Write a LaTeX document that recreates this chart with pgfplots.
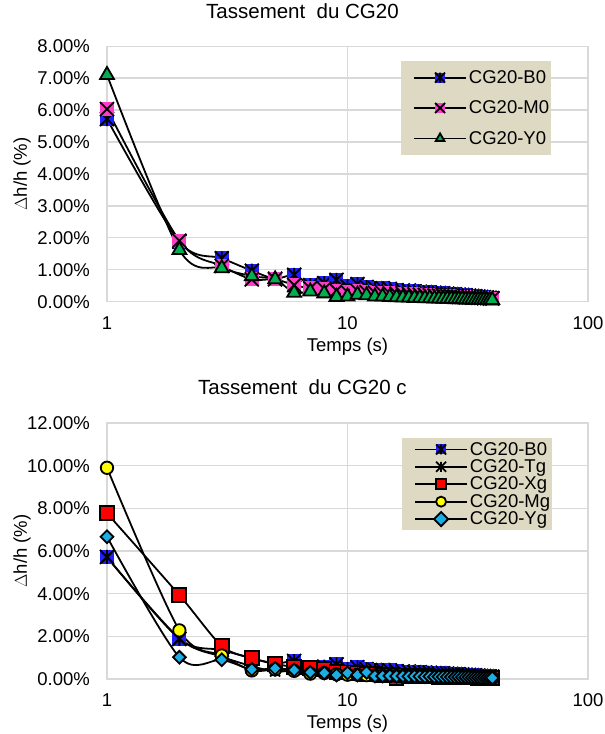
\documentclass[border=0pt]{standalone}
\usepackage{fontspec}
\setmainfont{Liberation Sans}
\usepackage{pgfplots}
\usepackage{pgfplotstable}
\pgfplotsset{compat=1.18}

\definecolor{gridgray}{HTML}{D9D9D9}
\definecolor{legtan}{HTML}{DDD9C3}
\definecolor{cgblue}{HTML}{1E1EFF}
\definecolor{cgmag}{HTML}{FF3DC8}
\definecolor{cggreen}{HTML}{00B050}
\definecolor{cgred}{HTML}{FF0000}
\definecolor{cgyellow}{HTML}{FFFF00}
\definecolor{cgcyan}{HTML}{1CADE4}

% square filled + X + vertical bar (Excel "star" on a filled square)
\pgfdeclareplotmark{sqstar}{%
  \pgfpathrectangle{\pgfqpoint{-\pgfplotmarksize}{-\pgfplotmarksize}}{\pgfqpoint{2\pgfplotmarksize}{2\pgfplotmarksize}}%
  \pgfusepathqfill
  \pgfpathmoveto{\pgfqpoint{-\pgfplotmarksize}{-\pgfplotmarksize}}\pgfpathlineto{\pgfqpoint{\pgfplotmarksize}{\pgfplotmarksize}}%
  \pgfpathmoveto{\pgfqpoint{-\pgfplotmarksize}{\pgfplotmarksize}}\pgfpathlineto{\pgfqpoint{\pgfplotmarksize}{-\pgfplotmarksize}}%
  \pgfpathmoveto{\pgfqpoint{0pt}{-\pgfplotmarksize}}\pgfpathlineto{\pgfqpoint{0pt}{\pgfplotmarksize}}%
  \pgfusepathqstroke}
% square filled + X
\pgfdeclareplotmark{sqx}{%
  \pgfpathrectangle{\pgfqpoint{-\pgfplotmarksize}{-\pgfplotmarksize}}{\pgfqpoint{2\pgfplotmarksize}{2\pgfplotmarksize}}%
  \pgfusepathqfill
  \pgfpathmoveto{\pgfqpoint{-\pgfplotmarksize}{-\pgfplotmarksize}}\pgfpathlineto{\pgfqpoint{\pgfplotmarksize}{\pgfplotmarksize}}%
  \pgfpathmoveto{\pgfqpoint{-\pgfplotmarksize}{\pgfplotmarksize}}\pgfpathlineto{\pgfqpoint{\pgfplotmarksize}{-\pgfplotmarksize}}%
  \pgfusepathqstroke}
% X + vertical bar, no fill
\pgfdeclareplotmark{xstar}{%
  \pgfpathmoveto{\pgfqpoint{-\pgfplotmarksize}{-\pgfplotmarksize}}\pgfpathlineto{\pgfqpoint{\pgfplotmarksize}{\pgfplotmarksize}}%
  \pgfpathmoveto{\pgfqpoint{-\pgfplotmarksize}{\pgfplotmarksize}}\pgfpathlineto{\pgfqpoint{\pgfplotmarksize}{-\pgfplotmarksize}}%
  \pgfpathmoveto{\pgfqpoint{0pt}{-\pgfplotmarksize}}\pgfpathlineto{\pgfqpoint{0pt}{\pgfplotmarksize}}%
  \pgfusepathqstroke}

% settlement (%) vs time (s)
\pgfplotstableread{
t  B0   M0   Y0
1  5.72 6.03 7.10
2  1.88 1.91 1.62
3  1.36 1.12 1.05
4  0.97 0.70 0.80
5  0.72 0.70 0.70
6  0.84 0.52 0.28
7  0.52 0.42 0.32
8  0.58 0.40 0.26
9  0.68 0.35 0.15
10 0.48 0.30 0.16
11 0.55 0.34 0.22
12 0.46 0.30 0.20
13 0.42 0.28 0.16
14 0.42 0.27 0.16
15 0.40 0.26 0.15
16 0.36 0.25 0.14
17 0.35 0.24 0.13
18 0.35 0.24 0.13
19 0.32 0.23 0.12
20 0.31 0.22 0.12
21 0.30 0.21 0.11
22 0.29 0.20 0.11
23 0.28 0.19 0.10
24 0.27 0.19 0.10
25 0.26 0.18 0.09
26 0.25 0.17 0.09
27 0.24 0.17 0.09
28 0.23 0.16 0.08
29 0.22 0.15 0.08
30 0.21 0.15 0.08
31 0.20 0.14 0.07
32 0.19 0.14 0.07
33 0.18 0.13 0.07
34 0.17 0.13 0.06
35 0.16 0.12 0.06
36 0.15 0.12 0.06
37 0.14 0.11 0.06
38 0.13 0.11 0.05
39 0.12 0.10 0.05
40 0.11 0.10 0.05
}\topdata

\pgfplotstableread{
t  B0   Tg   Xg   Mg   Yg
1  5.72 5.70 7.77 9.90 6.67
2  1.88 1.90 3.93 2.28 1.02
3  1.36 1.05 1.55 1.10 0.90
4  0.97 0.60 0.98 0.40 0.45
5  0.72 0.35 0.72 0.45 0.50
6  0.84 0.40 0.55 0.38 0.42
7  0.52 0.35 0.50 0.25 0.31
8  0.58 0.30 0.45 0.28 0.28
9  0.68 0.25 0.32 0.22 0.19
10 0.48 0.22 0.30 0.20 0.28
11 0.55 0.20 0.28 0.20 0.19
12 0.46 0.19 0.25 0.18 0.31
13 0.42 0.18 0.22 0.16 0.14
14 0.42 0.17 0.20 0.15 0.14
15 0.40 0.16 0.18 0.14 0.15
16 0.36 0.15 0.03 0.14 0.13
17 0.35 0.15 0.16 0.13 0.14
18 0.35 0.14 0.15 0.12 0.12
19 0.32 0.13 0.14 0.12 0.13
20 0.31 0.13 0.14 0.11 0.12
21 0.30 0.12 0.13 0.11 0.11
22 0.29 0.12 0.12 0.10 0.12
23 0.28 0.11 0.12 0.10 0.10
24 0.27 0.10 0.11 0.09 0.11
25 0.26 0.10 0.11 0.09 0.10
26 0.25 0.09 0.10 0.09 0.10
27 0.24 0.09 0.10 0.08 0.09
28 0.23 0.08 0.09 0.08 0.09
29 0.22 0.08 0.09 0.08 0.09
30 0.21 0.07 0.08 0.07 0.08
31 0.20 0.07 0.08 0.07 0.08
32 0.19 0.07 0.08 0.07 0.08
33 0.18 0.06 0.07 0.06 0.07
34 0.17 0.06 0.07 0.06 0.07
35 0.16 0.06 0.06 0.06 0.07
36 0.15 0.05 0.06 0.06 0.06
37 0.14 0.05 0.06 0.05 0.06
38 0.13 0.05 0.05 0.05 0.06
39 0.12 0.04 0.05 0.05 0.05
40 0.11 0.04 0.05 0.05 0.05
}\botdata

% legend sample: black line with one small marker in the middle
\newcommand{\cgimg}[1]{\path (0pt,0pt);
  \draw[mark repeat=2,mark phase=2,#1,line width=1.8pt,mark size=5pt]
  plot coordinates {(12pt,0pt) (38pt,0pt) (64pt,0pt)};}

\pgfplotsset{
  cgaxis/.style={
    scale only axis, width=481pt,
    xmin=1, xmax=100,
    xtick={1,10,100}, xticklabels={1,10,100},
    ymin=0,
    clip=false,
    grid=major,
    major grid style={gridgray, line width=1.3pt},
    axis line style={gridgray, line width=1.3pt},
    major tick length=0pt, minor tick length=0pt,
    tick label style={font=\fontsize{18.5}{22}\selectfont},
    /pgf/number format/assume math mode=true,
    yticklabel={\pgfmathprintnumber[fixed,fixed zerofill,precision=2]{\tick}\%},
    yticklabel style={inner sep=0pt, xshift=-17pt},
    xticklabel style={inner sep=0pt, yshift=-14.5pt},
    xlabel={Temps (s)},
    xlabel style={at={(axis description cs:0.5,0)}, anchor=center, yshift=-45pt, font=\fontsize{18.5}{22}\selectfont},
    ylabel={$\Delta$h/h (\%)},
    ylabel style={at={(axis description cs:-0.1767,0.5)}, anchor=center, font=\fontsize{18.5}{22}\selectfont},
    title style={at={(0.4064,1)}, anchor=center, font=\fontsize{20.5}{24}\selectfont},
    legend cell align=left,
    legend style={draw=none, fill=legtan, anchor=north west,
      font=\fontsize{18.5}{22}\selectfont, inner xsep=0pt},
  },
  cgline/.style={black, line width=1.8pt, smooth, mark options={solid, line width=1pt}},
}

\begin{document}
\begin{tikzpicture}
\useasboundingbox (0,0) rectangle (605pt,734pt);

\begin{semilogxaxis}[cgaxis,
  at={(107pt,432.3pt)}, anchor=south west, height=255.5pt,
  ymax=8, ytick={0,1,...,8},
  title={Tassement~~du CG20}, title style={yshift=29pt},
  legend style={at={(0.6112,0.9413)}, row sep=12pt, inner ysep=7pt},
  legend image code/.code={\cgimg{#1}},
]
\addplot[cgline, mark=sqstar, mark size=7pt, mark options={fill=cgblue, draw=black}] table[x=t, y=B0] {\topdata};
\addplot[cgline, mark=sqx, mark size=7pt, mark options={fill=cgmag, draw=black}] table[x=t, y=M0] {\topdata};
\addplot[cgline, mark=triangle*, mark size=8pt, mark options={fill=cggreen, draw=black}] table[x=t, y=Y0] {\topdata};
\legend{CG20-B0, CG20-M0, CG20-Y0}
\end{semilogxaxis}

\begin{semilogxaxis}[cgaxis,
  at={(107pt,55pt)}, anchor=south west, height=256pt,
  ymax=12, ytick={0,2,...,12},
  title={Tassement~~du CG20 c}, title style={yshift=30pt},
  legend style={at={(0.6133,0.9414)}, row sep=-1pt, inner ysep=2pt},
  legend image code/.code={\cgimg{#1}},
]
\addplot[cgline, mark=sqstar, mark size=7pt, mark options={fill=cgblue, draw=black}] table[x=t, y=B0] {\botdata};
\addplot[cgline, mark=xstar, mark size=5pt, mark options={draw=black}] table[x=t, y=Tg] {\botdata};
\addplot[cgline, mark=square*, mark size=7pt, mark options={fill=cgred, draw=black}] table[x=t, y=Xg] {\botdata};
\addplot[cgline, mark=*, mark size=6.2pt, mark options={fill=cgyellow, draw=black}] table[x=t, y=Mg] {\botdata};
\addplot[cgline, mark=square*, mark size=4.5pt, mark options={fill=cgcyan, draw=black, rotate=45}] table[x=t, y=Yg] {\botdata};
\legend{CG20-B0, CG20-Tg, CG20-Xg, CG20-Mg, CG20-Yg}
\end{semilogxaxis}
\end{tikzpicture}
\end{document}
